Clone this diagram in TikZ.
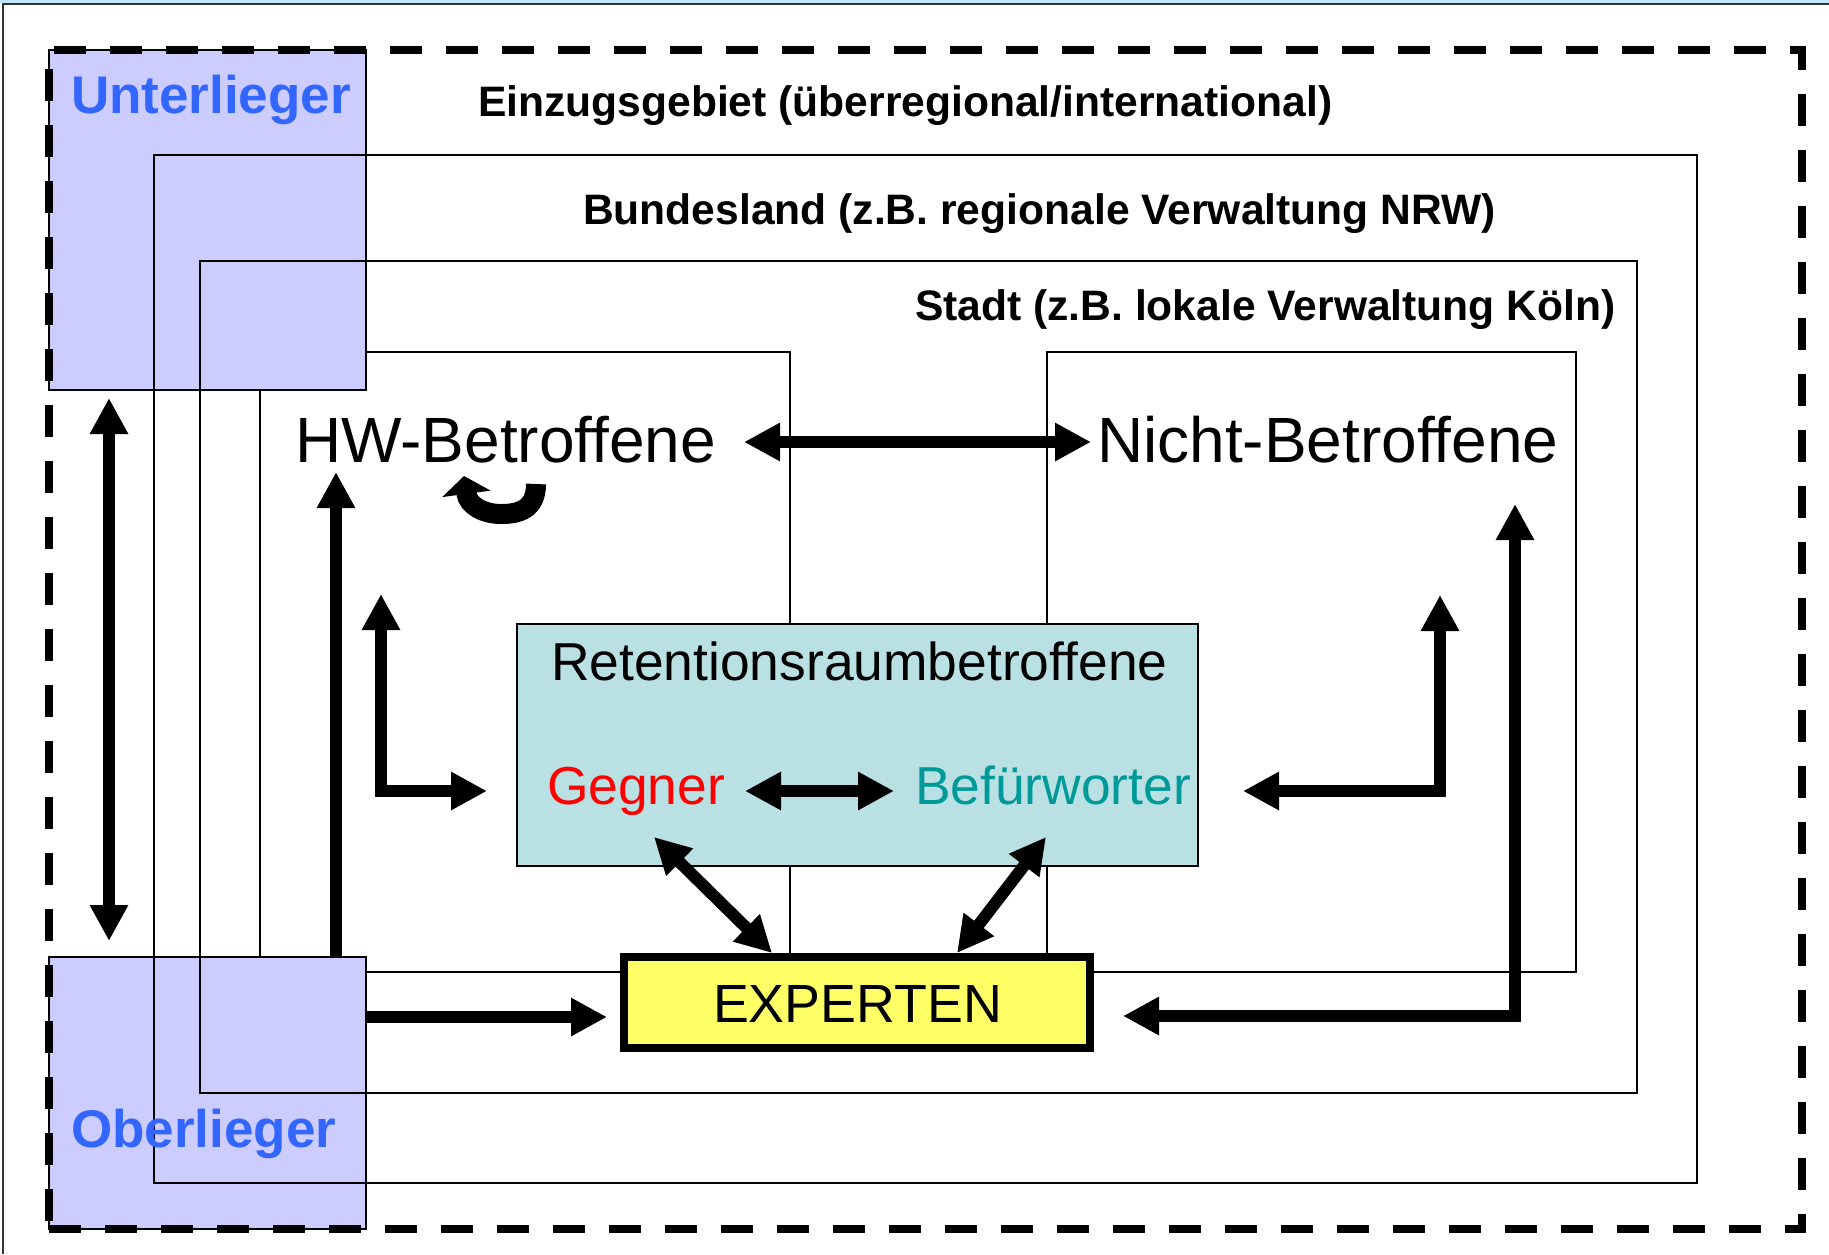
\documentclass[tikz,border=0pt]{standalone}
\usepackage{fontspec}
\setmainfont{Liberation Sans}
\usetikzlibrary{arrows.meta}
\definecolor{lav}{HTML}{CCCCFF}
\definecolor{lblue}{HTML}{3366FF}
\definecolor{retfill}{HTML}{B9E0E3}
\definecolor{expfill}{HTML}{FFFF66}
\definecolor{tealtxt}{HTML}{009999}
\definecolor{topstrip}{HTML}{BFE6F8}
\begin{document}
\begin{tikzpicture}[x=0.5pt,y=-0.5pt,
  box/.style={draw=black, line width=0.9pt, inner sep=0pt, outer sep=0pt, anchor=north west},
  lbl/.style={inner sep=0pt, outer sep=0pt, anchor=base west},
  headtxt/.style={lbl, font=\fontsize{21.3pt}{24pt}\selectfont\bfseries},
  sidetxt/.style={lbl, text=lblue, font=\fontsize{26.5pt}{30pt}\selectfont\bfseries},
  bigtxt/.style={lbl, font=\fontsize{32pt}{36pt}\selectfont},
  midtxt/.style={lbl, font=\fontsize{26.7pt}{30pt}\selectfont},
  tipA/.tip={Triangle[length=18pt,width=18pt]},
  arr/.style={line width=6pt, -tipA, line join=miter},
  darr/.style={line width=6pt, tipA-tipA, line join=miter}]
\useasboundingbox (0,0) rectangle (1829,1254);
\fill[white] (0,0) rectangle (1829,1254);
% frame of the slide
\fill[topstrip] (0,0) rectangle (1829,3);
\draw[line width=1pt, black!80] (3,1254) -- (3,4) -- (1829,4);

% inner boxes (behind)
\node[box, minimum width=265pt, minimum height=310pt] (hwbox) at (260,352) {};
\node[box, minimum width=264.5pt, minimum height=310pt] (nichtbox) at (1047,352) {};

% Unterlieger / Oberlieger areas
\node[box, fill=lav, minimum width=158.5pt, minimum height=170pt] (unter) at (49,50) {};
\node[box, fill=lav, minimum width=158.5pt, minimum height=136pt] (ober) at (49,957) {};

% nested administrative levels
\node[box, minimum width=771.5pt, minimum height=514pt] (bund) at (154,155) {};
\node[box, minimum width=718.5pt, minimum height=416pt] (stadt) at (200,261) {};

% catchment (dashed)
\node[box, line width=4pt, dash pattern=on 16pt off 12pt, minimum width=876.5pt, minimum height=589.5pt] (einz) at (49,50) {};

% Retention box and experts
\node[box, fill=retfill, minimum width=340.5pt, minimum height=121pt] (ret) at (517,624) {};
\node[box, fill=expfill, line width=4pt, minimum width=233pt, minimum height=45.5pt] (exp) at (624,957) {};

% texts
\node[sidetxt] (tunter) at (71,113) {Unterlieger};
\node[sidetxt] (tober) at (71,1147) {Oberlieger};
\node[headtxt] (teinz) at (478,116) {Einzugsgebiet (überregional/international)};
\node[headtxt] (tbund) at (583,224) {Bundesland (z.B. regionale Verwaltung NRW)};
\node[headtxt] (tstadt) at (915,320) {Stadt (z.B. lokale Verwaltung Köln)};
\node[bigtxt] (hw) at (295,462) {HW-Betroffene};
\node[bigtxt] (nicht) at (1097,462) {Nicht-Betroffene};
\node[midtxt] (tret) at (551,680) {Retentionsraumbetroffene};
\node[midtxt, text=red] (gegner) at (547,804) {Gegner};
\node[midtxt, text=tealtxt] (befuer) at (915,804) {Befürworter};
\node[lbl, font=\fontsize{26.9pt}{30pt}\selectfont] (texp) at (713,1022) {EXPERTEN};

% arrow end points
\coordinate (lt) at (109,398);
\coordinate (lb) at (109,941);
\coordinate (hwup) at (336,472);
\coordinate (l1a) at (381,594);
\coordinate (l1c) at (381,791);
\coordinate (l1b) at (487,791);
\coordinate (r1a) at (1243,791);
\coordinate (r1c) at (1440,791);
\coordinate (r1b) at (1440,595);
\coordinate (r2a) at (1123,1016);
\coordinate (r2c) at (1515,1016);
\coordinate (r2b) at (1515,504);
\coordinate (oexp) at (607,1017);
\coordinate (hwL) at (744,442);
\coordinate (hwR) at (1091,442);
\coordinate (gL) at (745,791);
\coordinate (gR) at (894,791);
\coordinate (dg1) at (654,837);
\coordinate (dg2) at (772,953);
\coordinate (db1) at (1046,837);
\coordinate (db2) at (957,953);

% connectors
\draw[darr] (lt) -- (lb);
\draw[arr] (ober.north -| hwup) -- (hwup);
\draw[darr] (l1a) -- (l1c) -- (l1b);
\draw[darr] (r1a) -- (r1c) -- (r1b);
\draw[darr] (r2a) -- (r2c) -- (r2b);
\draw[arr] (ober.east |- oexp) -- (oexp);
\draw[darr] (hwL) -- (hwR);
\draw[darr] (gL) -- (gR);
\draw[darr] (dg1) -- (dg2);
\draw[darr] (db1) -- (db2);

% self-referential curved arrow under HW-Betroffene
\coordinate (cs) at (536,484);
\coordinate (ce) at (464,476);
\draw[line width=10pt, -{Triangle[length=9pt,width=24pt]}]
  (cs) .. controls (536,510) and (518,514) .. (501,514)
       .. controls (484,514) and (468,506) .. (ce);
\end{tikzpicture}
\end{document}
